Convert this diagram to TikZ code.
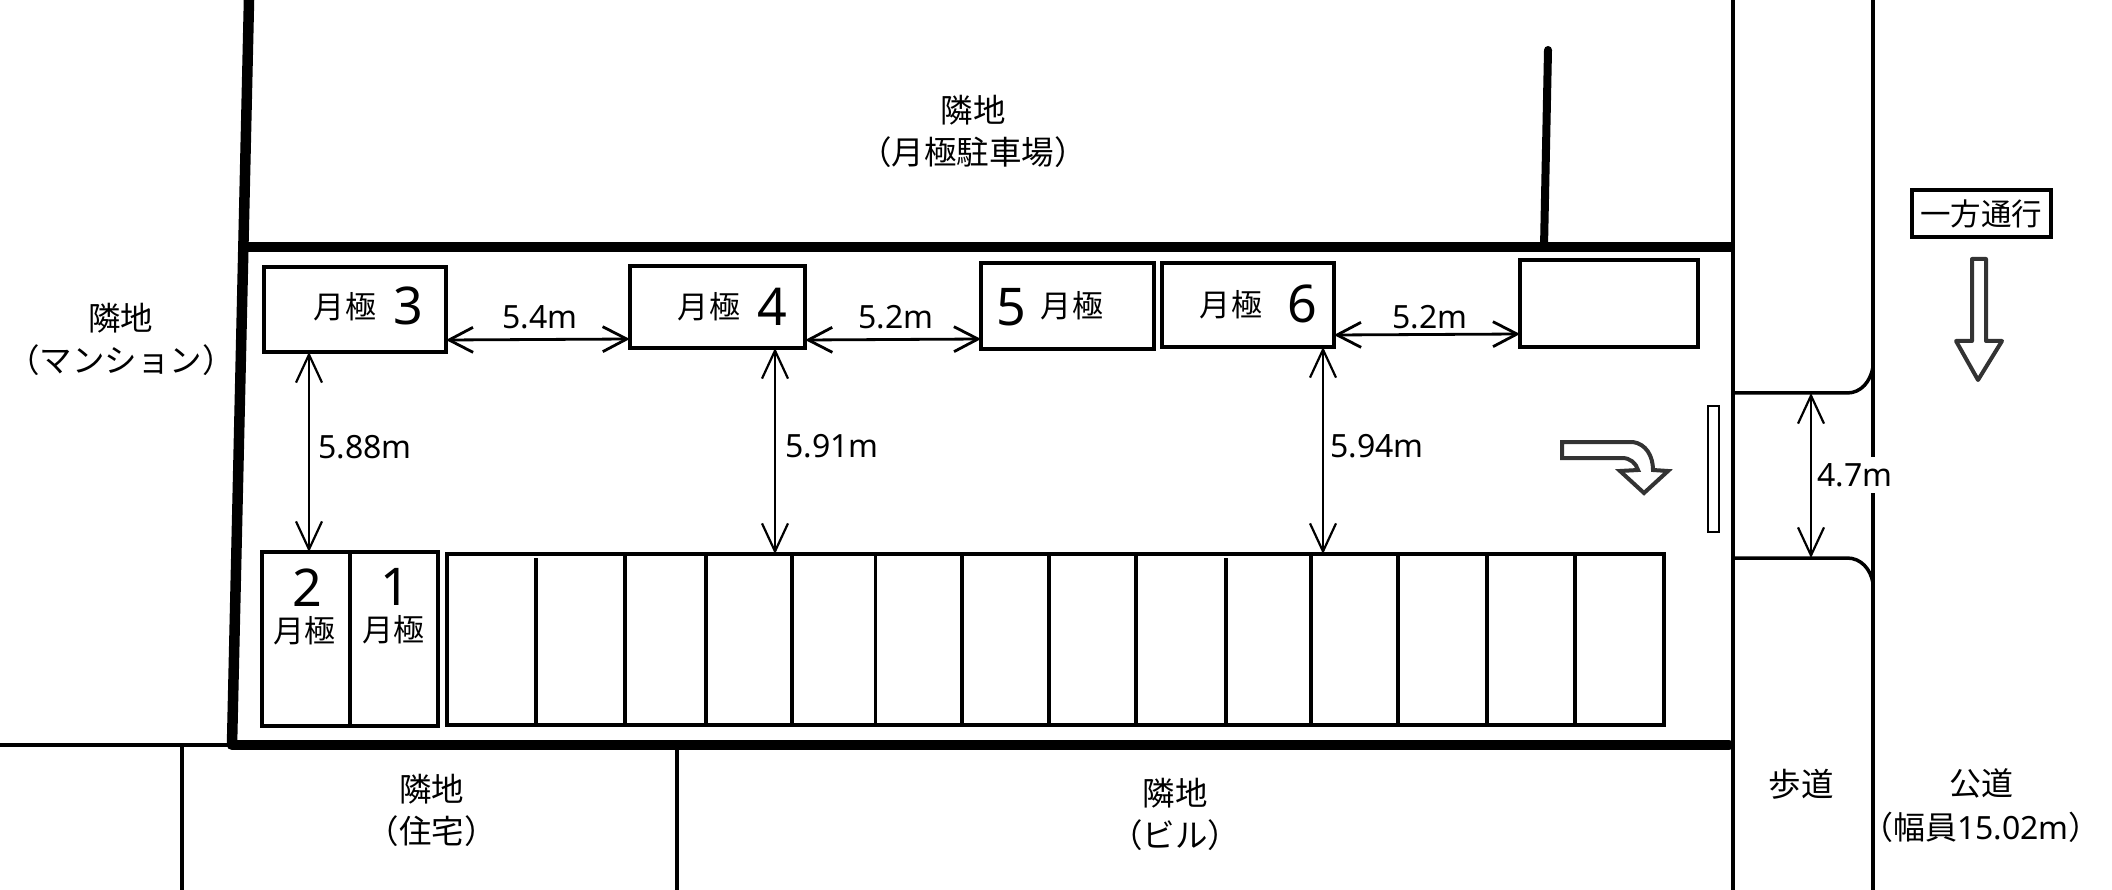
\documentclass[tikz,border=0pt]{standalone}
\usepackage{fontspec}
\setmainfont{Noto Sans CJK JP}
\newfontfamily\lat{Noto Sans}
\usetikzlibrary{arrows.meta}
\tikzset{
  lab/.style={inner sep=0pt,outer sep=0pt,align=center,font=\fontsize{32.5}{42}\selectfont},
  kana/.style={inner sep=0pt,outer sep=0pt,font=\fontsize{31}{36}\selectfont},
  dimlab/.style={inner sep=0pt,outer sep=0pt,font=\lat\fontsize{32}{36}\selectfont},
  bignum/.style={inner sep=0pt,outer sep=0pt,font=\lat\fontsize{52}{56}\selectfont},
  stall/.style={draw,line width=4pt,inner sep=0pt,outer sep=0pt},
  dimline/.style={line width=2.2pt,{Straight Barb[length=28pt,width=26pt]}-{Straight Barb[length=28pt,width=26pt]}},
  dimlineh/.style={line width=2.8pt,{Straight Barb[length=24pt,width=25pt]}-{Straight Barb[length=24pt,width=25pt]}},
  wall/.style={line width=10.5pt,line cap=round},
  fineline/.style={line width=3.5pt},
  divider/.style={line width=3.5pt},
  hollow/.style={draw=black!80,line width=4pt,fill=white,line join=round},
}
\begin{document}
\begin{tikzpicture}[x=1pt,y=-1pt]
\useasboundingbox (0,0) rectangle (2112,890);
% thin site lines
\draw[fineline] (0,745) -- (232,745);
\draw[fineline] (182,745) -- (182,890);
\draw[fineline] (677,745) -- (677,890);
\draw[fineline] (1733,0) -- (1733,890);
\draw[fineline] (1873,0) -- (1873,890);
\draw[fineline] (1733,393) -- (1847,393) to[out=0,in=-100] (1873,367);
\draw[fineline] (1733,558) -- (1847,558) to[out=0,in=100] (1873,583);
% thick walls
\draw[line width=10.5pt] (249,0) -- (232,745);
\draw[wall] (232,745) -- (1729,745);
\draw[line width=10.5pt] (245,247) -- (1733,247);
\draw[line width=8pt,line cap=round] (1548,50) -- (1544,247);
% upper stalls
\node[stall,minimum width=182pt,minimum height=85pt] (box3) at (355,309.5) {};
\node[stall,minimum width=175.5pt,minimum height=82pt] (box4) at (717.5,307) {};
\node[stall,minimum width=173pt,minimum height=86pt] (box5) at (1067.5,306) {};
\node[stall,minimum width=172pt,minimum height=84pt] (box6) at (1248,305) {};
\node[stall,minimum width=178pt,minimum height=87pt] (box7) at (1609,303.5) {};
% lower stalls
\node[stall,minimum width=176pt,minimum height=174pt] (monthly) at (350,639) {};
\draw[divider] (monthly.north) -- (monthly.south);
\node[stall,minimum width=1217pt,minimum height=171pt] (row) at (1055.5,639.5) {};
\foreach \x in {625,706,792,875.5,962,1049,1136,1311,1398,1487,1575}
  \draw[divider] (\x,0 |- row.north) -- (\x,0 |- row.south);
\foreach \x in {536,1226}
  \draw[divider] (\x,558) -- (\x,0 |- row.south);
% gate, sign
\node[draw,line width=2.8pt,fill=white,inner sep=0pt,outer sep=0pt,minimum width=11pt,minimum height=126pt] (gate) at (1713.5,469) {};
\node[draw,line width=4pt,inner sep=0pt,outer sep=0pt,minimum width=139pt,minimum height=47pt,font=\fontsize{30.5}{34}\selectfont] (sign) at (1981,213.5) {一方通行};
% hollow arrows
\draw[hollow] (1972,259) -- (1986,259) -- (1986,341) -- (2002,341) -- (1978,380) -- (1956,341) -- (1972,341) -- cycle;
\draw[hollow,line join=miter] (1562,442) -- (1633,442) .. controls (1646,444) and (1653,456) .. (1653,470) -- (1668,471) -- (1644,493) -- (1620,471) -- (1638,470) .. controls (1636,463) and (1630,458) .. (1622,458) -- (1562,458) -- cycle;
% dimension arrows
\draw[dimlineh] (box3.east |- 0,340) -- (box4.west |- 0,339);
\draw[dimlineh] (box4.east |- 0,340) -- (box5.west |- 0,339);
\draw[dimlineh] (box6.east |- 0,335) -- (box7.west |- 0,334);
\draw[dimline] (309,0 |- box3.south) -- (309,0 |- monthly.north);
\draw[dimline] (775,0 |- box4.south) -- (775,0 |- row.north);
\draw[dimline] (1323,0 |- box6.south) -- (1323,0 |- row.north);
\coordinate (roadN) at (1811,393);
\coordinate (roadS) at (1811,558);
\draw[dimline] (roadN) -- (roadS);
% dimension labels
\node[dimlab] (d1) at (540,317) {5.4m};
\node[dimlab] (d2) at (896,317) {5.2m};
\node[dimlab] (d3) at (1430,317) {5.2m};
\node[dimlab] (d4) at (365,447) {5.88m};
\node[dimlab] (d5) at (832,446) {5.91m};
\node[dimlab] (d6) at (1377,446) {5.94m};
\node[dimlab,fill=white,inner xsep=2pt,inner ysep=6pt] (d7) at (1855,475) {4.7m};
% stall labels
\node[kana] (m3) at (345,307) {月\hspace{1pt}極};
\node[bignum] (n3) at (408,306) {3};
\node[kana] (m4) at (708.5,307) {月\hspace{1pt}極};
\node[bignum] (n4) at (772,307) {4};
\node[bignum] (n5) at (1011,307) {5};
\node[kana] (m5) at (1072,306) {月\hspace{1pt}極};
\node[kana] (m6) at (1231,305) {月\hspace{1pt}極};
\node[bignum] (n6) at (1302,304) {6};
\node[bignum] (n2) at (307,588) {2};
\node[kana] (m2) at (304,631) {月極};
\node[bignum] (n1) at (395,587) {1};
\node[kana] (m1) at (393,630) {月極};
% area labels
\node[lab] (a1) at (973,131) {隣地\\（月極駐車場）};
\node[lab] (a2) at (121,339.5) {隣地\\（マンション）};
\node[lab] (a3) at (431.5,810) {隣地\\（住宅）};
\node[lab] (a4) at (1175,814) {隣地\\（ビル）};
\node[lab] (a5) at (1801,784) {歩道};
\node[lab,font=\fontsize{32}{44}\selectfont] (a6) at (1981,806) {公道\\（幅員{\lat\fontsize{32}{36}\selectfont 15.02m}）};
\end{tikzpicture}
\end{document}
